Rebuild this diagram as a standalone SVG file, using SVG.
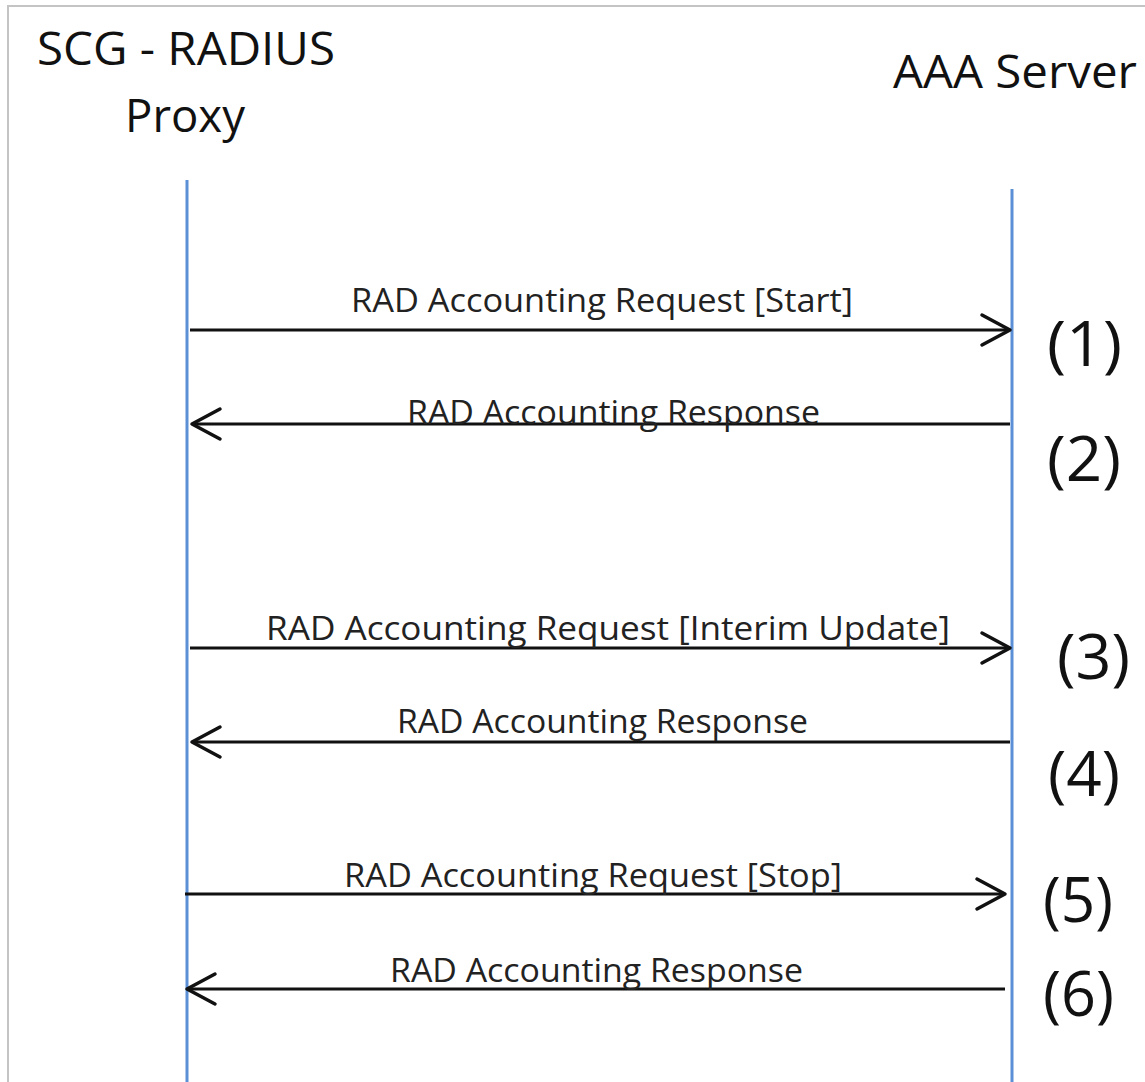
<svg xmlns="http://www.w3.org/2000/svg" width="1145" height="1082" viewBox="0 0 1145 1082">
<style>
.frame{fill:none;stroke:#c4c4c4;stroke-width:2}
.life{stroke:#5b8fd6;stroke-width:3;fill:none}
.msg{stroke:#111;stroke-width:3;fill:none;marker-end:url(#arr)}
.title{font-family:"Open Sans","Liberation Sans",sans-serif;font-size:46px;fill:#111}
.lbl{font-family:"Open Sans","Liberation Sans",sans-serif;font-size:33px;fill:#222}
.num{font-family:"Open Sans","Liberation Sans",sans-serif;font-size:62px;fill:#111}
</style>
<defs>
<marker id="arr" markerUnits="userSpaceOnUse" markerWidth="40" markerHeight="40" viewBox="-32 -20 40 40" refX="0" refY="0" orient="auto">
<path d="M -28 -15 L 0 0 L -28 15" fill="none" stroke="#111" stroke-width="3.5" stroke-linecap="round" stroke-linejoin="round"/>
</marker>
</defs>
<rect width="1145" height="1082" fill="#fff"/>
<path class="frame" d="M 8 1082 L 8 6 L 1145 6"/>
<g id="proxy">
<text class="title" x="37" y="65" textLength="298" lengthAdjust="spacingAndGlyphs">SCG - RADIUS</text>
<text class="title" x="125" y="132" textLength="120" lengthAdjust="spacingAndGlyphs">Proxy</text>
<line class="life" x1="187" y1="180" x2="187" y2="1082"/>
</g>
<g id="aaa">
<text class="title" x="893" y="88" textLength="244" lengthAdjust="spacingAndGlyphs">AAA Server</text>
<line class="life" x1="1012" y1="189" x2="1012" y2="1082"/>
</g>
<g id="connectors">
<line class="msg" x1="190" y1="330" x2="1010" y2="330"/>
<line class="msg" x1="1010" y1="424" x2="192" y2="424"/>
<line class="msg" x1="190" y1="648" x2="1010" y2="648"/>
<line class="msg" x1="1010" y1="742" x2="192" y2="742"/>
<line class="msg" x1="185" y1="894" x2="1005" y2="894"/>
<line class="msg" x1="1005" y1="989" x2="187" y2="989"/>
</g>
<g id="labels">
<text class="lbl" x="351" y="312" textLength="502" lengthAdjust="spacingAndGlyphs">RAD Accounting Request  [Start]</text>
<text class="lbl" x="407" y="424" textLength="413" lengthAdjust="spacingAndGlyphs">RAD Accounting Response</text>
<text class="lbl" x="266" y="640" textLength="684" lengthAdjust="spacingAndGlyphs">RAD Accounting Request  [Interim Update]</text>
<text class="lbl" x="397" y="733" textLength="411" lengthAdjust="spacingAndGlyphs">RAD Accounting Response</text>
<text class="lbl" x="344" y="887" textLength="498" lengthAdjust="spacingAndGlyphs">RAD Accounting Request  [Stop]</text>
<text class="lbl" x="390" y="982" textLength="413" lengthAdjust="spacingAndGlyphs">RAD Accounting Response</text>
</g>
<g id="numbers">
<text class="num" x="1047" y="366" textLength="75" lengthAdjust="spacingAndGlyphs">(1)</text>
<text class="num" x="1047" y="481" textLength="74" lengthAdjust="spacingAndGlyphs">(2)</text>
<text class="num" x="1057" y="679" textLength="73" lengthAdjust="spacingAndGlyphs">(3)</text>
<text class="num" x="1048" y="796" textLength="72" lengthAdjust="spacingAndGlyphs">(4)</text>
<text class="num" x="1043" y="922" textLength="70" lengthAdjust="spacingAndGlyphs">(5)</text>
<text class="num" x="1043" y="1016" textLength="71" lengthAdjust="spacingAndGlyphs">(6)</text>
</g>
</svg>
